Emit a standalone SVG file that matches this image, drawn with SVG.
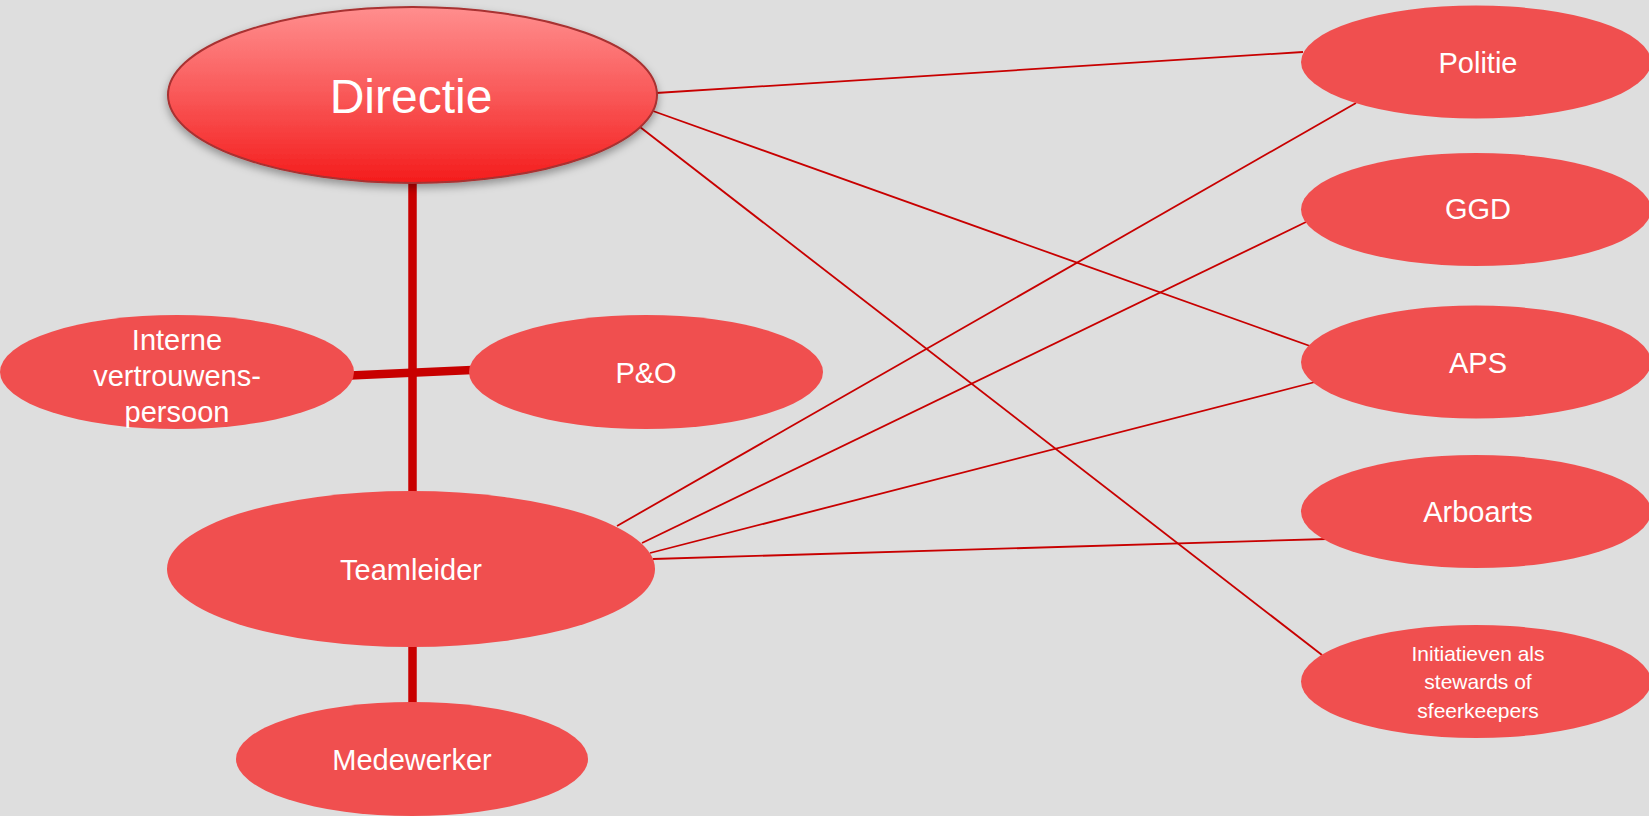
<svg xmlns="http://www.w3.org/2000/svg" width="1649" height="816" viewBox="0 0 1649 816">
<style>
.node{fill:#f04f4f}
.lbl{font-family:"Liberation Sans",Arial,sans-serif;fill:#ffffff;text-anchor:middle;font-size:29px}
.small{font-size:21px}
.thin{stroke:#c80000;stroke-width:1.8;fill:none}
.thick{stroke:#c80000;stroke-width:8.5;fill:none}
</style>
<defs>
<linearGradient id="dg" x1="0" y1="0" x2="0" y2="1">
<stop offset="0" stop-color="#ff8e8e"/>
<stop offset="0.5" stop-color="#f95858"/>
<stop offset="1" stop-color="#f41c1c"/>
</linearGradient>
<filter id="sh" x="-20%" y="-20%" width="140%" height="150%">
<feDropShadow dx="0" dy="4" stdDeviation="4" flood-color="#000" flood-opacity="0.35"/>
</filter>
</defs>
<rect width="1649" height="816" fill="#dedede"/>
<g id="connectors">
<line class="thick" x1="412.5" y1="180" x2="412.5" y2="494"/>
<line class="thick" x1="412.5" y1="644" x2="412.5" y2="704"/>
<line class="thick" x1="350" y1="375.5" x2="472" y2="370"/>
<line class="thin" x1="656" y1="93" x2="1303" y2="52"/>
<line class="thin" x1="653" y1="111" x2="1310" y2="346"/>
<line class="thin" x1="640" y1="127" x2="1322" y2="655"/>
<line class="thin" x1="617" y1="526" x2="1356" y2="103"/>
<line class="thin" x1="642" y1="543" x2="1306" y2="222"/>
<line class="thin" x1="650" y1="553" x2="1315" y2="382"/>
<line class="thin" x1="653" y1="559" x2="1327" y2="539"/>
</g>
<g id="directie">
<ellipse cx="412.5" cy="95" rx="244.5" ry="88" fill="url(#dg)" stroke="#a83030" stroke-width="2" filter="url(#sh)"/>
<text class="lbl" x="411" y="113" style="font-size:48px">Directie</text>
</g>
<g id="interne">
<ellipse class="node" cx="177" cy="372" rx="177" ry="57"/>
<text class="lbl" x="177" y="350">Interne</text>
<text class="lbl" x="177" y="386">vertrouwens-</text>
<text class="lbl" x="177" y="422">persoon</text>
</g>
<g id="po">
<ellipse class="node" cx="646" cy="372" rx="177" ry="57"/>
<text class="lbl" x="646" y="383">P&amp;O</text>
</g>
<g id="teamleider">
<ellipse class="node" cx="411" cy="569" rx="244" ry="78"/>
<text class="lbl" x="411" y="580">Teamleider</text>
</g>
<g id="medewerker">
<ellipse class="node" cx="412" cy="759" rx="176" ry="57"/>
<text class="lbl" x="412" y="770">Medewerker</text>
</g>
<g id="politie">
<ellipse class="node" cx="1476" cy="62" rx="175" ry="56.5"/>
<text class="lbl" x="1478" y="73">Politie</text>
</g>
<g id="ggd">
<ellipse class="node" cx="1476" cy="209.5" rx="175" ry="56.5"/>
<text class="lbl" x="1478" y="219">GGD</text>
</g>
<g id="aps">
<ellipse class="node" cx="1476" cy="362" rx="175" ry="56.5"/>
<text class="lbl" x="1478" y="373">APS</text>
</g>
<g id="arboarts">
<ellipse class="node" cx="1476" cy="511.5" rx="175" ry="56.5"/>
<text class="lbl" x="1478" y="522">Arboarts</text>
</g>
<g id="initiatieven">
<ellipse class="node" cx="1476" cy="681.5" rx="175" ry="56.5"/>
<text class="lbl small" x="1478" y="661">Initiatieven als</text>
<text class="lbl small" x="1478" y="689">stewards of</text>
<text class="lbl small" x="1478" y="718">sfeerkeepers</text>
</g>
</svg>
